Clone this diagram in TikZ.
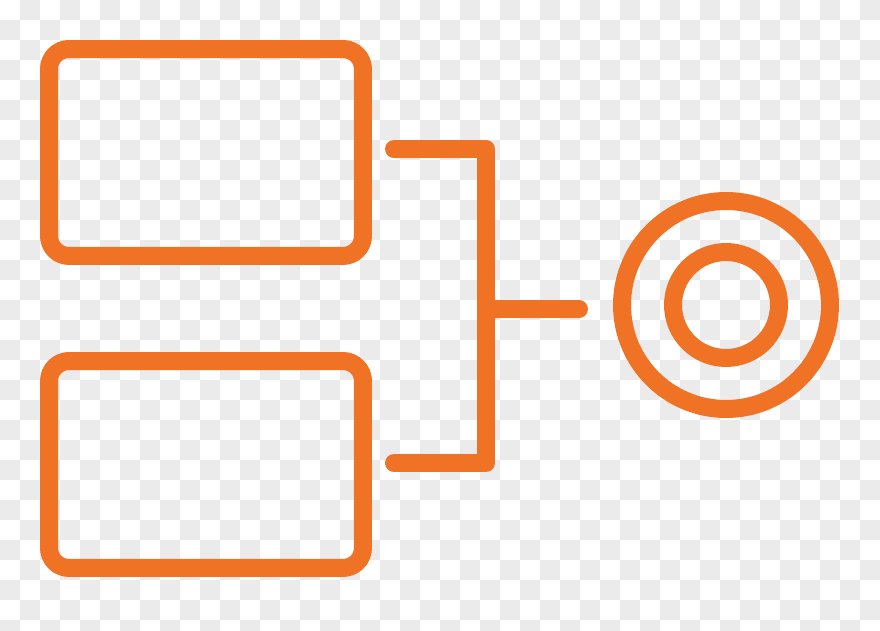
\documentclass[tikz,border=0pt]{standalone}
\usepackage{tikz}
\usetikzlibrary{positioning}
\definecolor{orangeicon}{RGB}{240,114,36}
\definecolor{damier}{RGB}{235,235,235}
\tikzset{
	trait/.style={line width=0.36cm, draw=orangeicon, line cap=round, line join=round},
	boite/.style={trait, rectangle, rounded corners=0.4cm, minimum width=6.28cm, minimum height=4.14cm, inner sep=0pt},
	anneau/.style={trait, circle, inner sep=0pt}
}

\begin{document}
\begin{tikzpicture}[x=0.02cm, y=0.02cm]
		\useasboundingbox (0,0) rectangle (880,631);
		% fond en damier
		\fill [white] (0,0) rectangle (880,631);
		\foreach \i in {0,...,43}
			\foreach \j in {0,...,31}
			{
				\pgfmathtruncatemacro{\parite}{mod(\i+\j,2)}
				\ifnum\parite=1
					\fill [damier] (20*\i,631-20*\j) rectangle (20*\i+20,631-20*\j-20);
				\fi
			}
		
		\node [boite] (haut) at (206,478.5) {};
		\node [boite] (bas) at (206,166.5) {};
		
		\node [anneau, minimum size=4.16cm] (cible) at (726,326) {};
		\node [anneau, minimum size=2.12cm] (centre) at (cible.center) {};
		
		\coordinate (entreeA) at (394,482);
		\coordinate (entreeB) at (394,168);
		\coordinate (jonction) at (486,322);
		\coordinate (sortie) at (579,322);
		\draw [trait] (entreeA) -- (jonction |- entreeA) -- (jonction |- entreeB) -- (entreeB);
		\draw [trait] (jonction) -- (sortie);
	\end{tikzpicture}
\end{document}
